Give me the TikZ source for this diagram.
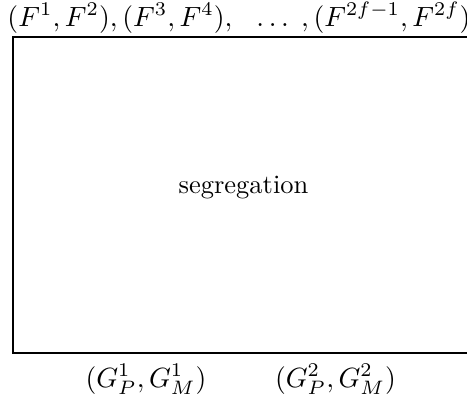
\documentclass[tikz,border=0pt]{standalone}
\begin{document}
\begin{tikzpicture}[x=0.01328cm,y=-0.01328cm,
  lbl/.style={inner sep=0pt,anchor=base},
  mathlbl/.style={lbl,scale=1.05},
  boxline/.style={line width=0.5pt}]
\useasboundingbox (0,0) rectangle (467,400);
\coordinate (tr) at (467,37);
\coordinate (tl) at (13,37);
\coordinate (bl) at (13,353);
\coordinate (br) at (467,353);
\draw[boxline] (tr) -- (tl) -- (bl) -- (br);
\node[mathlbl] (top) at (239,26) {$(F^1,F^2),(F^3,F^4),\hspace{7pt}\ldots\;,(F^{2f-1},F^{2f})$};
\node[lbl] (seg) at (243.5,193) {segregation};
\node[mathlbl] (g1) at (146,387) {$(G_P^1,G_M^1)$};
\node[mathlbl] (g2) at (335.5,387) {$(G_P^2,G_M^2)$};
\end{tikzpicture}
\end{document}
